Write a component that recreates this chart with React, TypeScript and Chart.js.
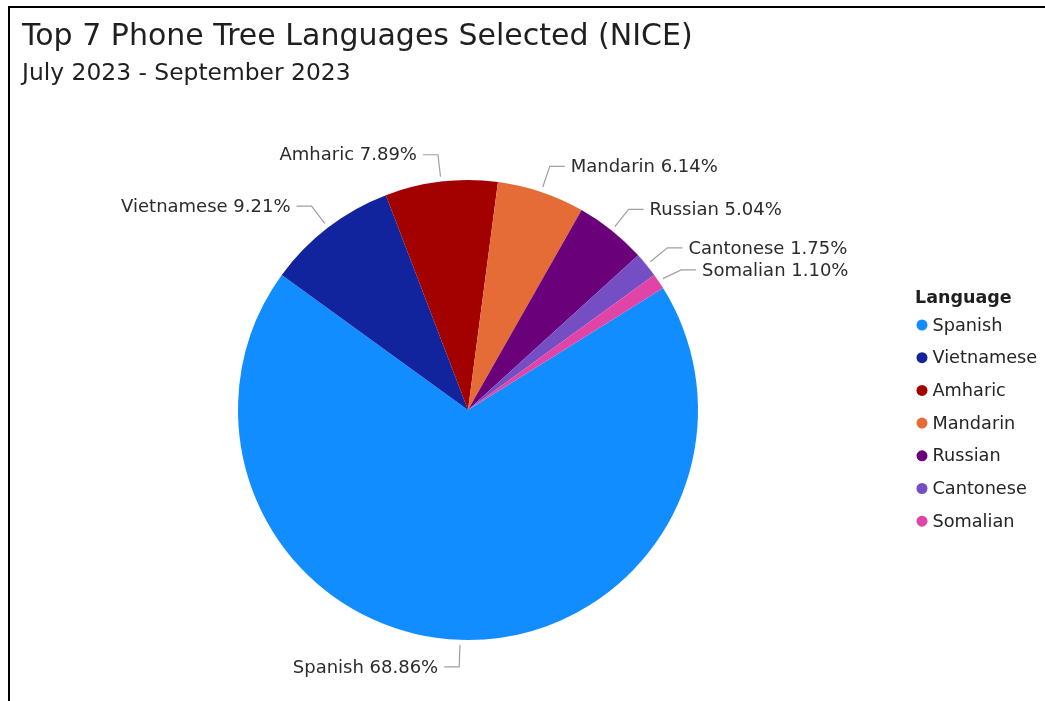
import React, { useEffect, useRef } from "react";
import { Chart, registerables } from "chart.js";

Chart.register(...registerables);

const titleText = "Top 7 Phone Tree Languages Selected (NICE)";
const subtitleText = "July 2023 - September 2023";
const legendTitle = "Language";
const languages = ["Spanish", "Vietnamese", "Amharic", "Mandarin", "Russian", "Cantonese", "Somalian"];
const shares = [68.86, 9.21, 7.89, 6.14, 5.04, 1.75, 1.1];
const colors = ["#118DFF", "#12239E", "#A30000", "#E66C37", "#6B007B", "#744EC2", "#E044A7"];

const FONT = "'DejaVu Sans', Verdana, sans-serif";

const overlayPlugin = {
  id: "overlay",
  afterDraw(chart: any) {
    const ctx = chart.ctx as CanvasRenderingContext2D;
    ctx.save();
    // title + subtitle
    ctx.fillStyle = "#1f1f1f";
    ctx.textBaseline = "alphabetic";
    ctx.textAlign = "left";
    ctx.font = `30px ${FONT}`;
    ctx.fillText(titleText, 22, 45);
    ctx.font = `23.4px ${FONT}`;
    ctx.fillText(subtitleText, 22, 80);

    // data labels with leader lines
    const meta = chart.getDatasetMeta(0);
    const items: any[] = [];
    meta.data.forEach((arc: any, i: number) => {
      const p = arc.getProps(["x", "y", "startAngle", "endAngle", "outerRadius"], true);
      const mid = (p.startAngle + p.endAngle) / 2;
      const cos = Math.cos(mid);
      const sin = Math.sin(mid);
      const sx = p.x + cos * (p.outerRadius + 5);
      const sy = p.y + sin * (p.outerRadius + 5);
      const ex = p.x + cos * (p.outerRadius + 27);
      const ey = p.y + sin * (p.outerRadius + 27);
      items.push({ i, sx, sy, ex, ey, right: cos >= 0 });
    });
    // resolve overlaps per side
    [true, false].forEach((side) => {
      const list = items.filter((it) => it.right === side).sort((a, b) => a.ey - b.ey);
      for (let k = 1; k < list.length; k++) {
        if (list[k].ey - list[k - 1].ey < 22) list[k].ey = list[k - 1].ey + 22;
      }
    });
    ctx.font = `18px ${FONT}`;
    ctx.textBaseline = "middle";
    items.forEach((it) => {
      const dir = it.right ? 1 : -1;
      const hx = it.ex + dir * 15;
      ctx.strokeStyle = "#A0A0A0";
      ctx.lineWidth = 1.2;
      ctx.beginPath();
      ctx.moveTo(it.sx, it.sy);
      ctx.lineTo(it.ex, it.ey);
      ctx.lineTo(hx, it.ey);
      ctx.stroke();
      ctx.fillStyle = "#2b2b2b";
      ctx.textAlign = it.right ? "left" : "right";
      const label = `${languages[it.i]} ${shares[it.i].toFixed(2)}%`;
      ctx.fillText(label, hx + dir * 6, it.ey + 1);
    });

    // legend
    ctx.textAlign = "left";
    ctx.textBaseline = "middle";
    ctx.fillStyle = "#1f1f1f";
    ctx.font = `bold 17.5px ${FONT}`;
    ctx.fillText(legendTitle, 915, 298);
    ctx.font = `17.7px ${FONT}`;
    languages.forEach((name, i) => {
      const y = 325 + i * 32.7;
      ctx.fillStyle = colors[i];
      ctx.beginPath();
      ctx.arc(922, y, 5.5, 0, Math.PI * 2);
      ctx.fill();
      ctx.fillStyle = "#252423";
      ctx.fillText(name, 932.5, y + 1);
    });
    ctx.restore();
  },
};

export default function App() {
  const ref = useRef<HTMLCanvasElement>(null);
  useEffect(() => {
    if (!ref.current) return;
    const chart = new Chart(ref.current, {
      type: "pie",
      data: {
        labels: languages,
        datasets: [
          {
            data: shares,
            backgroundColor: colors,
            borderWidth: 0,
          },
        ],
      },
      options: {
        animation: false,
        responsive: false,
        rotation: 58,
        layout: { padding: { left: 238, right: 347, top: 180, bottom: 61 } },
        plugins: {
          legend: { display: false },
          title: { display: false },
          tooltip: { enabled: false },
        },
        events: [],
      },
      plugins: [overlayPlugin],
    });
    return () => chart.destroy();
  }, []);
  return (
    <div style={{ position: "fixed", left: 0, top: 0, width: 1045, height: 701, background: "#fff" }}>
      <canvas ref={ref} width={1045} height={701} style={{ position: "absolute", left: 0, top: 0 }} />
      <div
        style={{
          position: "absolute",
          left: 8,
          top: 6,
          width: 1037,
          height: 695,
          borderTop: "2px solid #000",
          borderLeft: "2px solid #000",
          boxSizing: "border-box",
          pointerEvents: "none",
        }}
      />
    </div>
  );
}
